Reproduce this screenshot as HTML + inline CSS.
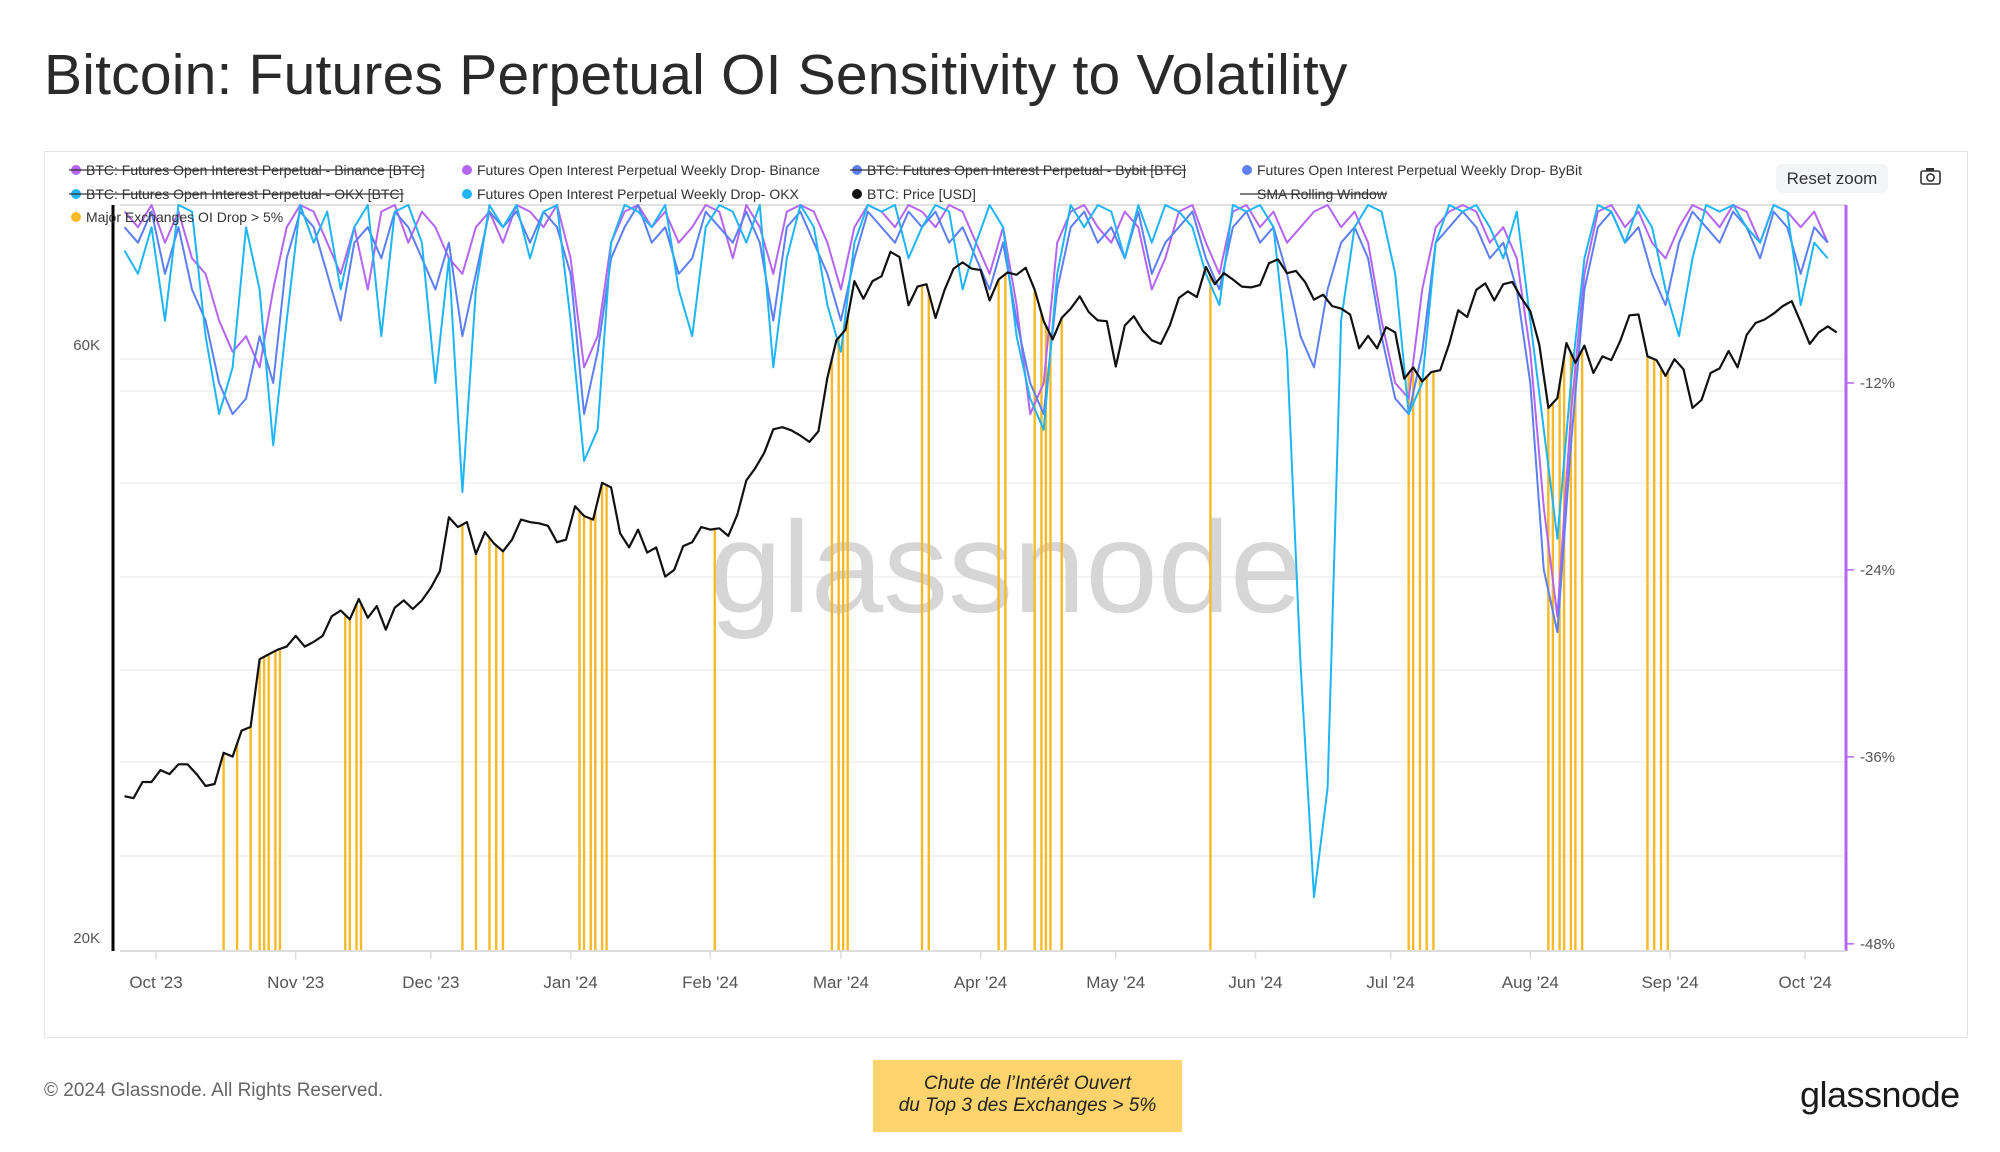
<!DOCTYPE html>
<html><head><meta charset="utf-8">
<style>
html,body{margin:0;padding:0;background:#fff;width:2000px;height:1152px;overflow:hidden;font-family:"Liberation Sans",sans-serif;}
#title{position:absolute;left:44px;top:42px;font-size:57px;color:#2a2a2a;font-weight:500;letter-spacing:0.2px;}
#box{position:absolute;left:44px;top:151px;width:1922px;height:885px;border:1px solid #e3e3e3;}
svg{position:absolute;left:0;top:0;}
#copy{position:absolute;left:44px;top:1080px;font-size:19px;color:#666;}
#note{position:absolute;left:873px;top:1060px;width:309px;height:72px;background:#fcd36c;font-style:italic;font-size:19px;color:#222;text-align:center;line-height:22px;box-sizing:border-box;padding-top:13px;}
#logo{position:absolute;left:1800px;top:1074px;font-size:36px;color:#1a1a1a;font-weight:500;letter-spacing:-0.5px;}
#reset{position:absolute;left:1776px;top:164px;width:112px;height:29px;background:#f4f5f7;border-radius:5px;font-size:17px;color:#333;text-align:center;line-height:29px;}
</style></head>
<body>
<div id="title">Bitcoin: Futures Perpetual OI Sensitivity to Volatility</div>
<div id="box"></div>
<svg id="chart" width="2000" height="1152"></svg>
<div id="reset">Reset zoom</div>
<div id="copy">© 2024 Glassnode. All Rights Reserved.</div>
<div id="note">Chute de l’Intérêt Ouvert<br>du Top 3 des Exchanges &gt; 5%</div>
<div id="logo">glassnode</div>
<script>
// price every 2 days starting 2023-09-24 (day -7 relative to 2023-10-01), in K USD
const priceK = [26.3,26.2,27.0,27.0,
27.6,27.4,27.9,27.9,27.4,26.8,26.9,28.5,28.3,29.7,29.9,33.9,34.2,34.5,34.7,
35.4,34.7,35.0,35.4,36.7,37.1,36.5,37.9,36.6,37.4,35.8,37.3,37.8,37.2,37.8,
38.7,39.9,44.1,43.3,43.7,41.2,42.9,42.0,41.4,42.3,43.9,43.7,43.6,43.4,42.1,42.3,
45.0,44.2,43.9,47.0,46.6,42.8,41.7,43.1,41.3,41.7,39.5,40.0,41.8,42.1,43.3,
43.1,43.2,42.6,44.3,47.2,48.3,49.7,51.9,52.1,51.8,51.3,50.7,51.7,57.1,61.2,
62.4,68.3,66.1,68.3,68.9,72.1,71.4,65.3,67.6,67.9,63.8,67.2,69.9,70.7,69.9,
69.7,65.9,68.5,69.4,69.1,70.0,67.2,63.4,61.3,63.8,64.9,66.4,64.5,63.5,63.4,
58.3,62.9,64.0,62.3,61.2,60.8,62.9,66.2,67.0,66.3,70.1,67.9,69.3,68.5,67.6,67.5,
67.8,70.6,71.1,69.3,69.6,68.2,66.0,66.6,65.2,64.9,64.2,60.3,61.7,60.3,62.7,
62.1,57.0,58.2,56.7,57.7,57.9,60.8,64.7,63.9,67.2,68.0,65.9,67.9,68.2,66.2,
64.6,60.7,54.0,55.0,60.9,58.7,60.6,57.6,59.4,59.0,61.2,64.1,64.2,59.4,59.0,57.3,
59.1,58.0,54.0,54.8,57.6,58.1,60.0,58.2,61.8,63.2,63.6,64.3,65.2,65.8,63.3,
60.8,62.1,62.8,62.1];
// weekly drop (%), every 3 days starting day -7
const okxDrop = [-3.5,-5,-2,-8,0,-1,-9,-14,-11,-2,
-6,-16,-8,0,-3,-1,-6,-2,0,-9,
-1,0,-3,-12,-4,-19,-6,0,-2,0,
-4,-1,0,-8,-17,-15,-3,0,-1,-2,
0,-6,-9,-2,0,-1,-3,0,-11,-4,
0,-2,-7,-10,-3,0,-1,0,-4,-2,
0,-1,-6,-3,0,-2,-9,-13,-15,-5,
0,-2,0,-1,-4,0,-3,0,-1,-2,
-5,-7,0,-1,0,-2,-10,-30,-45,-38,
-8,-2,0,-1,-5,-14,-12,-3,0,-1,
0,-2,-4,-1,-8,-15,-22,-12,-4,0,
-1,-3,0,-2,-6,-9,-4,0,-1,0,
-2,-3,0,-1,-7,-3,-4];
const binanceDrop = [-1,-2,0,-3,-1,-4,-5,-8,-10,-9,
-11,-6,-2,0,-1,-3,-5,-2,-6,-1,
0,-3,-1,-2,-4,-5,-2,-1,-3,0,
-1,-2,0,-4,-11,-9,-3,-1,0,-2,
-1,-3,-2,0,-1,-4,0,-2,-5,-1,
0,-1,-3,-6,-2,0,-1,-2,0,-1,
-2,0,-1,-3,-5,-2,-7,-14,-12,-3,
-1,0,-2,-3,-1,-2,-6,-4,-1,0,
-3,-5,-1,0,-2,-1,-3,-2,-1,0,
-2,-1,-3,-8,-12,-13,-6,-2,-1,0,
-1,-3,-2,-4,-10,-20,-27,-14,-5,-1,
0,-2,-1,-3,-4,-2,0,-1,-2,0,
-1,-3,0,-1,-2,-1,-3];
const bybitDrop = [-2,-3,-1,-5,-2,-6,-8,-12,-14,-13,
-9,-12,-4,-1,-2,-5,-8,-3,-2,-4,
-1,-2,-4,-6,-3,-9,-5,-1,-2,-1,
-3,-1,-2,-5,-14,-10,-4,-2,0,-3,
-2,-5,-4,-1,-2,-3,-1,-3,-8,-2,
-1,-3,-5,-8,-4,-1,-2,-3,-1,-2,
-1,-3,-2,-4,-6,-3,-8,-12,-14,-6,
-2,-1,-3,-2,-4,-1,-5,-3,-2,-1,
-4,-6,-2,-1,-3,-2,-5,-9,-11,-6,
-3,-2,-4,-9,-13,-14,-10,-3,-2,-1,
-2,-4,-3,-6,-12,-24,-28,-16,-6,-2,
-1,-3,-2,-5,-7,-3,-1,-2,-3,-1,
-2,-4,-1,-2,-5,-2,-3];
// days (from 2023-10-01) with major exchange OI drop > 5%
const dropDays = [15,18,21,23,24,25,26.5,27.5,42,43,44.5,45.5,68,71,74,75.5,77,94,95,96.5,97.5,99,100,124,150,151.5,152.5,153.5,170,171.5,187,188.5,195,196.5,197.5,198.5,201,234,278,279,280.5,282,283.5,309,310,311.5,312.5,314,315,316.5,331,332.5,334,335.5];
const monthLabels = ["Oct '23","Nov '23","Dec '23","Jan '24","Feb '24","Mar '24","Apr '24","May '24","Jun '24","Jul '24","Aug '24","Sep '24","Oct '24"];
const monthDays = [0,31,61,92,123,152,183,213,244,274,305,336,366];
const priceTicks = [60,20];
const pctTicks = [-12,-24,-36,-48];

const NS="http://www.w3.org/2000/svg";
const svg=document.getElementById('chart');
const L=120,R=1846,T=205,B=951;
const X=d=>156+d*4.506;
const YP=k=>944-593*Math.log(k/20)/Math.log(3);
const YR=p=>Math.max(T,Math.min(B,196-15.58*p));
function el(tag,attrs,parent){const e=document.createElementNS(NS,tag);for(const k in attrs)e.setAttribute(k,attrs[k]);(parent||svg).appendChild(e);return e;}

[359,391,483,577,670,762,856].forEach(y=>{const g=el('line',{x1:L,x2:R,y1:y,y2:y,stroke:'#ececec','stroke-width':1.3});

});
const tl=el('line',{x1:L,x2:R,y1:T,y2:T,stroke:'#e0e0e0','stroke-width':2});



const wm=el('text',{x:1006,y:612,'text-anchor':'middle','font-size':130,fill:'#d6d6d6','font-family':'Liberation Sans, sans-serif'});
wm.textContent='glassnode';



dropDays.forEach(d=>{
  const idx=(d+7)/2; const i0=Math.floor(idx),i1=Math.min(priceK.length-1,i0+1);
  const k=priceK[i0]+(priceK[i1]-priceK[i0])*(idx-i0);
  const b=el('line',{x1:X(d),x2:X(d),y1:B,y2:YP(k),stroke:'#f7b928','stroke-width':2.4});
  
  
});

function series(arr,step,start,fy,color,w,name){
  const pts=arr.map((v,i)=>X(start+i*step).toFixed(1)+','+fy(v).toFixed(1)).join(' ');
  const p=el('polyline',{points:pts,fill:'none',stroke:color,'stroke-width':w,'stroke-linejoin':'round'});
  
  
}
series(binanceDrop,3,-7,YR,'#b565f2',2,'binance-weekly-drop-line');
series(bybitDrop,3,-7,YR,'#5d7ff2',2,'bybit-weekly-drop-line');
series(okxDrop,3,-7,YR,'#1fb5f5',2,'okx-weekly-drop-line');
series(priceK,2,-7,YP,'#111',2.2,'btc-price-line');

const la=el('line',{x1:113,x2:113,y1:T,y2:B,stroke:'#000','stroke-width':3});


const ra=el('line',{x1:R,x2:R,y1:T,y2:B,stroke:'#b565f2','stroke-width':3});


const xa=el('line',{x1:L,x2:R,y1:B,y2:B,stroke:'#ddd','stroke-width':2});



priceTicks.forEach(k=>{const t=el('text',{x:100,y:YP(k)-1,'text-anchor':'end','font-size':15,fill:'#555'});t.textContent=k+'K';

});
pctTicks.forEach(p=>{const t=el('text',{x:1860,y:YR(p)+5,'font-size':15,fill:'#555'});t.textContent=p+'%';


const tk=el('line',{x1:R,x2:R+8,y1:YR(p),y2:YR(p),stroke:'#b565f2','stroke-width':1.5});

});
monthLabels.forEach((m,i)=>{const x=X(monthDays[i]);
const tk=el('line',{x1:x,x2:x,y1:B,y2:B+8,stroke:'#ddd','stroke-width':1.5});


const t=el('text',{x:x,y:988,'text-anchor':'middle','font-size':17,fill:'#555'});t.textContent=m;

});

const legend=[
 [70,170,'#b565f2','BTC: Futures Open Interest Perpetual - Binance [BTC]',true],
 [461,170,'#b565f2','Futures Open Interest Perpetual Weekly Drop- Binance',false],
 [851,170,'#5d7ff2','BTC: Futures Open Interest Perpetual - Bybit [BTC]',true],
 [1241,170,'#5d7ff2','Futures Open Interest Perpetual Weekly Drop- ByBit',false],
 [70,194,'#1fb5f5','BTC: Futures Open Interest Perpetual - OKX [BTC]',true],
 [461,194,'#1fb5f5','Futures Open Interest Perpetual Weekly Drop- OKX',false],
 [851,194,'#111','BTC: Price [USD]',false],
 [1241,194,null,'SMA Rolling Window',true],
 [70,217,'#f7b928','Major Exchanges OI Drop > 5%',false]];
legend.forEach(l=>{
 const g=el('g',{});
 
 
 if(l[2]) el('circle',{cx:l[0]+6,cy:l[1],r:5,fill:l[2]},g);
 const t=el('text',{x:l[0]+16,y:l[1]+5,'font-size':14,fill:'#333'},g);t.textContent=l[3];
 if(l[4]){const w=t.getComputedTextLength();el('line',{x1:l[0]-1,x2:l[0]+16+w,y1:l[1],y2:l[1],stroke:'#333','stroke-width':1.2},g);}
});
const cam=el('g',{});


el('rect',{x:1921,y:171,width:19,height:13,rx:2,fill:'none',stroke:'#333','stroke-width':1.6},cam);
el('circle',{cx:1930.5,cy:177.5,r:3.6,fill:'none',stroke:'#333','stroke-width':1.6},cam);
el('rect',{x:1926,y:168,width:8,height:3,fill:'#333'},cam);
</script>
</body></html>
